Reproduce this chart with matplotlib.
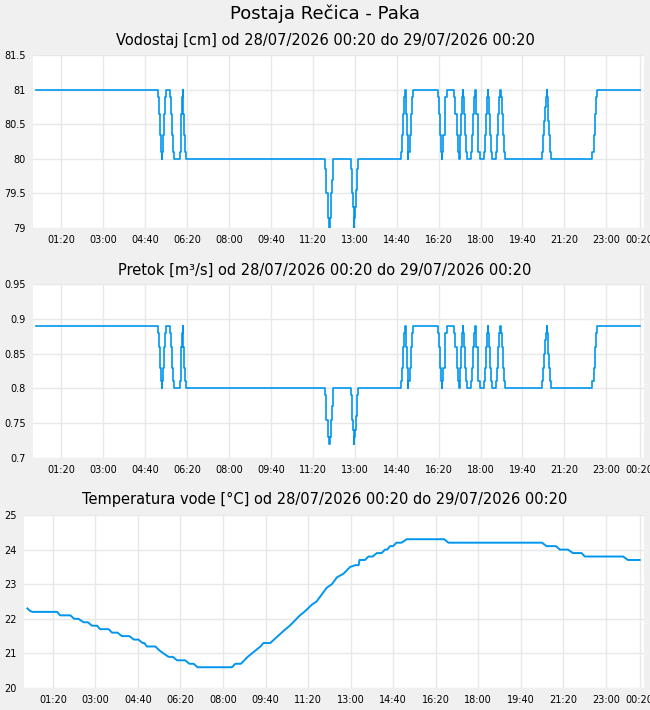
import matplotlib.pyplot as plt

# time axis: minutes after 28/07/2026 00:20
xtick_min = [60, 160, 260, 360, 460, 560, 660, 760, 860, 960, 1060, 1160, 1260, 1360, 1440]
xtick_labels = ["01:20", "03:00", "04:40", "06:20", "08:00", "09:40", "11:20", "13:00",
                "14:40", "16:20", "18:00", "19:40", "21:20", "23:00", "00:20"]

# water level [cm], step changes (minute, value)
vodostaj_min = [
    0,
    290, 292, 295, 297, 300, 301, 303, 305, 307, 309,
    319, 322, 324, 327, 329,
    342, 344, 346, 348, 349, 350, 351, 353, 354, 356,
    688, 691, 692, 695, 697, 699, 700, 702, 704, 706, 708,
    750, 753, 754, 756, 757, 758, 759, 761, 763, 766, 768,
    869, 872, 875, 878, 880, 881, 883, 884, 886, 887, 888, 891, 894, 896, 898,
    959, 961, 963, 965, 967, 968, 971, 974, 976, 979,
    997, 1000, 1003, 1006, 1009, 1010, 1012, 1014, 1016, 1018, 1019, 1021, 1023, 1025, 1028,
    1038, 1040, 1042, 1045, 1047, 1048, 1050, 1053, 1055, 1058,
    1069, 1071, 1073, 1075, 1077, 1078, 1080, 1083, 1085, 1088,
    1097, 1100, 1102, 1105, 1107, 1108, 1110, 1113, 1115, 1118,
    1207, 1209, 1211, 1213, 1216, 1218, 1219, 1220, 1223, 1225, 1228,
    1327, 1330, 1332, 1335, 1338,
    1440,
]
vodostaj_cm = [
    81,
    80.9, 80.65, 80.35, 80.1, 80, 80.1, 80.35, 80.65, 80.9, 81,
    80.9, 80.65, 80.35, 80.1, 80,
    80.1, 80.35, 80.65, 80.9, 81, 80.9, 80.65, 80.35, 80.1, 80,
    79.85, 79.7, 79.5, 79.3, 79.15, 79, 79.15, 79.3, 79.5, 79.7, 80,
    79.85, 79.7, 79.5, 79.3, 79.15, 79, 79.15, 79.3, 79.55, 79.85, 80,
    80.1, 80.35, 80.65, 80.9, 81, 80.9, 80.65, 80.35, 80.1, 80, 80.1, 80.35, 80.65, 80.9, 81,
    80.9, 80.65, 80.35, 80.1, 80, 80.1, 80.35, 80.65, 80.9, 81,
    80.9, 80.65, 80.35, 80.1, 80, 80.1, 80.35, 80.65, 80.9, 81, 80.9, 80.65, 80.35, 80.1, 80,
    80.1, 80.35, 80.65, 80.9, 81, 80.9, 80.65, 80.35, 80.1, 80,
    80.1, 80.35, 80.65, 80.9, 81, 80.9, 80.65, 80.35, 80.1, 80,
    80.1, 80.35, 80.65, 80.9, 81, 80.9, 80.65, 80.35, 80.1, 80,
    80.1, 80.35, 80.55, 80.75, 80.9, 81, 80.9, 80.55, 80.35, 80.1, 80,
    80.1, 80.35, 80.65, 80.9, 81,
    81,
]
# discharge [m3/s], same change times as the water level
pretok_m3s = [
    0.89,
    0.88, 0.86, 0.83, 0.81, 0.80, 0.81, 0.83, 0.86, 0.88, 0.89,
    0.88, 0.86, 0.83, 0.81, 0.80,
    0.81, 0.83, 0.86, 0.88, 0.89, 0.88, 0.86, 0.83, 0.81, 0.80,
    0.79, 0.775, 0.755, 0.74, 0.73, 0.72, 0.73, 0.74, 0.755, 0.775, 0.80,
    0.79, 0.775, 0.755, 0.74, 0.73, 0.72, 0.73, 0.74, 0.76, 0.79, 0.80,
    0.81, 0.83, 0.86, 0.88, 0.89, 0.88, 0.86, 0.83, 0.81, 0.80, 0.81, 0.83, 0.86, 0.88, 0.89,
    0.88, 0.86, 0.83, 0.81, 0.80, 0.81, 0.83, 0.86, 0.88, 0.89,
    0.88, 0.86, 0.83, 0.81, 0.80, 0.81, 0.83, 0.86, 0.88, 0.89, 0.88, 0.86, 0.83, 0.81, 0.80,
    0.81, 0.83, 0.86, 0.88, 0.89, 0.88, 0.86, 0.83, 0.81, 0.80,
    0.81, 0.83, 0.86, 0.88, 0.89, 0.88, 0.86, 0.83, 0.81, 0.80,
    0.81, 0.83, 0.86, 0.88, 0.89, 0.88, 0.86, 0.83, 0.81, 0.80,
    0.81, 0.83, 0.85, 0.87, 0.88, 0.89, 0.88, 0.85, 0.83, 0.81, 0.80,
    0.81, 0.83, 0.86, 0.88, 0.89,
    0.89,
]

# water temperature [°C]
temp_min = [0, 4, 11, 70, 77, 101, 110, 120, 132, 142, 152, 164, 171, 191, 199, 212,
            222, 240, 250, 261, 271, 275, 281, 301, 309, 320, 332, 342, 352, 371, 381,
            391, 400, 481, 489, 502, 510, 518, 528, 538, 548, 555, 571, 580, 589, 598,
            607, 617, 625, 633, 641, 651, 660, 668, 680, 692, 704, 716, 728, 743, 759,
            771, 779, 781, 794, 802, 812, 822, 833, 841, 846, 853, 860, 868, 880, 892,
            980, 990, 1210, 1221, 1243, 1252, 1271, 1283, 1303, 1311, 1401, 1412, 1440]
temp_c = [22.3, 22.25, 22.2, 22.2, 22.1, 22.1, 22.0, 22.0, 21.9, 21.9, 21.8, 21.8, 21.7, 21.7, 21.6, 21.6,
          21.5, 21.5, 21.4, 21.4, 21.3, 21.3, 21.2, 21.2, 21.1, 21.0, 20.9, 20.9, 20.8, 20.8, 20.7,
          20.7, 20.6, 20.6, 20.7, 20.7, 20.8, 20.9, 21.0, 21.1, 21.2, 21.3, 21.3, 21.4, 21.5, 21.6,
          21.7, 21.8, 21.9, 22.0, 22.1, 22.2, 22.3, 22.4, 22.5, 22.7, 22.9, 23.0, 23.2, 23.3, 23.5,
          23.55, 23.55, 23.7, 23.7, 23.8, 23.8, 23.9, 23.9, 24.0, 24.0, 24.1, 24.1, 24.2, 24.2, 24.3,
          24.3, 24.2, 24.2, 24.1, 24.1, 24.0, 24.0, 23.9, 23.9, 23.8, 23.8, 23.7, 23.7]

line_color = "#0096ef"
bg = "#f0f0f0"
grid_color = "#e8e8e8"

fig = plt.figure(figsize=(6.5, 7.1), dpi=100, facecolor=bg)

ax1 = fig.add_axes([33 / 650, 1 - 228 / 710, 611 / 650, 173 / 710])
ax2 = fig.add_axes([33 / 650, 1 - 458 / 710, 611 / 650, 174 / 710])
ax3 = fig.add_axes([24 / 650, 1 - 688 / 710, 620 / 650, 173 / 710])

ax1.plot(vodostaj_min, vodostaj_cm, drawstyle="steps-post", color=line_color, lw=1.2)
ax2.plot(vodostaj_min, pretok_m3s, drawstyle="steps-post", color=line_color, lw=1.2)
ax3.plot(temp_min, temp_c, color=line_color, lw=1.4)

ax1.set_ylim(79, 81.5)
ax1.set_yticks([79, 79.5, 80, 80.5, 81, 81.5])
ax1.set_yticklabels(["79", "79.5", "80", "80.5", "81", "81.5"])
ax2.set_ylim(0.7, 0.95)
ax2.set_yticks([0.7, 0.75, 0.8, 0.85, 0.9, 0.95])
ax2.set_yticklabels(["0.7", "0.75", "0.8", "0.85", "0.9", "0.95"])
ax3.set_ylim(20, 25)
ax3.set_yticks([20, 21, 22, 23, 24, 25])

for ax in (ax1, ax2, ax3):
    ax.set_facecolor("white")
    ax.set_xlim(-8, 1450)
    ax.set_xticks(xtick_min)
    ax.set_xticklabels(xtick_labels)
    ax.tick_params(length=0, labelsize=7, pad=5)
    ax.grid(True, color=grid_color, lw=1)
    ax.set_axisbelow(True)
    for s in ax.spines.values():
        s.set_visible(False)

date_range = "od 28/07/2026 00:20 do 29/07/2026 00:20"
fig.text(0.5, 1 - 14 / 710, "Postaja Rečica - Paka", ha="center", va="center", fontsize=13)
fig.text(0.5, 1 - 40 / 710, "Vodostaj [cm] " + date_range, ha="center", va="center", fontsize=10.5)
fig.text(0.5, 1 - 270 / 710, "Pretok [m³/s] " + date_range, ha="center", va="center", fontsize=10.5)
fig.text(0.5, 1 - 499 / 710, "Temperatura vode [°C] " + date_range, ha="center", va="center", fontsize=10.5)

fig.savefig("out.png", dpi=100, facecolor=bg)
